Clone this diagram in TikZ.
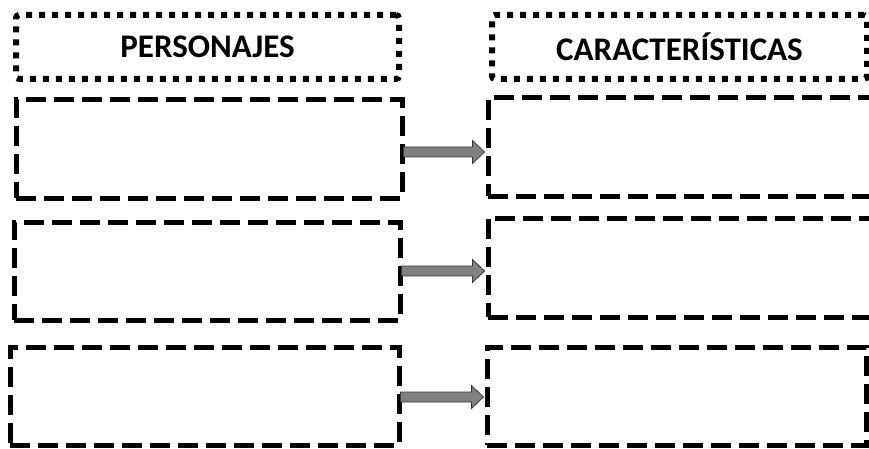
\documentclass[tikz,border=0pt]{standalone}
\usepackage{fontspec}
\setmainfont{Carlito}
\usetikzlibrary{calc}
\definecolor{arrowfill}{RGB}{128,128,128}
\definecolor{arrowline}{RGB}{55,55,55}
\tikzset{
  headbox/.style={draw, line width=6pt, dash pattern=on 6pt off 7pt, rounded corners=3pt,
    inner sep=0pt, font=\bfseries\fontsize{33}{40}\selectfont},
  cellbox/.style={draw, line width=5pt, dash pattern=on 20pt off 8pt, inner sep=0pt},
  blockarr/.style={draw=arrowline, fill=arrowfill, line width=0.8pt, line join=miter}
}
\begin{document}
\begin{tikzpicture}[x=1pt,y=-1pt]
\useasboundingbox (0,0) rectangle (869,449);
\clip (0,0) rectangle (869,449);
% headers
\node[headbox, minimum width=383pt, minimum height=64pt] (hl) at (207.5,47) {PERSONAJES};
\node[headbox, minimum width=375pt, minimum height=64pt] (hr) at (679.5,47) {CARACTERÍSTICAS};
% boxes
\node[cellbox, minimum width=386pt, minimum height=98pt] (l1) at (209,149) {};
\node[cellbox, minimum width=412pt, minimum height=98pt] (r1) at (694,147) {};
\node[cellbox, minimum width=386pt, minimum height=98pt] (l2) at (207,271) {};
\node[cellbox, minimum width=412pt, minimum height=99pt] (r2) at (694,267.5) {};
\node[cellbox, minimum width=389pt, minimum height=98pt] (l3) at (204.5,396) {};
\node[cellbox, minimum width=379pt, minimum height=98pt] (r3) at (676.5,396) {};
% block arrows
\foreach \a/\b/\dy in {l1/r1/3, l2/r2/0, l3/r3/1}{
  \draw[blockarr] let \p1=($(\a.east)+(0,\dy)$), \p2=(\b.west) in
    ({\x1-1pt},{\y1+5pt}) -- ({\x2-13pt},{\y1+5pt}) -- ({\x2-13pt},{\y1+11.5pt})
    -- ({\x2-1pt},{\y1}) -- ({\x2-13pt},{\y1-11.5pt}) -- ({\x2-13pt},{\y1-5pt})
    -- ({\x1-1pt},{\y1-5pt}) -- cycle;
}
\end{tikzpicture}
\end{document}
